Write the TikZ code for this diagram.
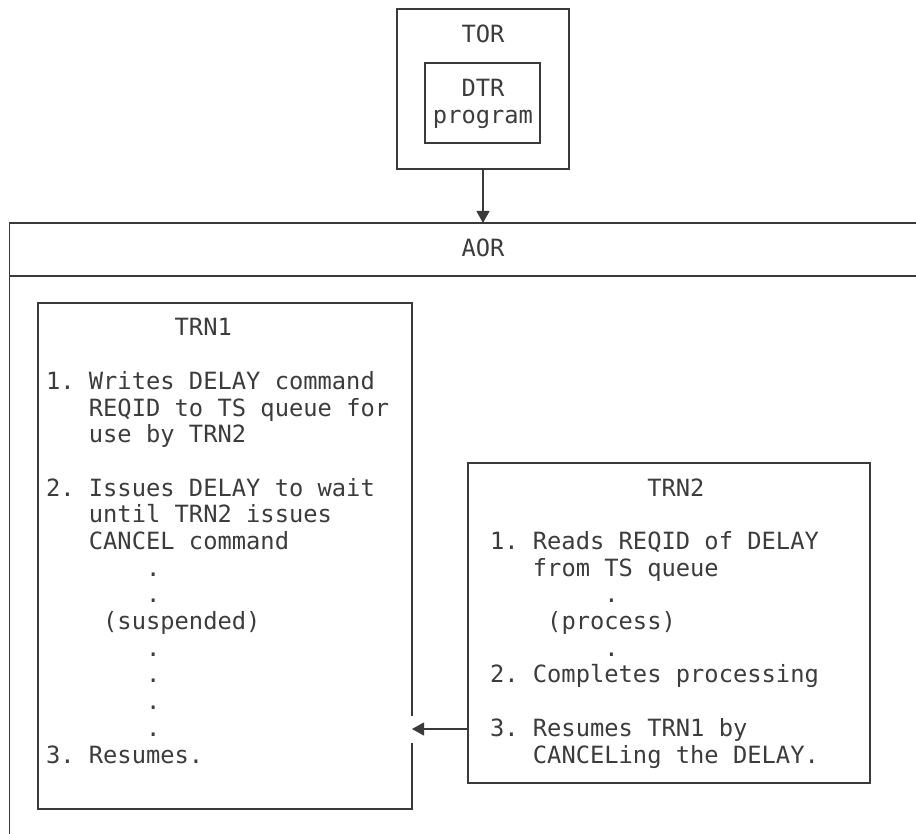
\documentclass[tikz,border=0pt]{standalone}
\usepackage{fontspec}
\newfontfamily\monof{DejaVu Sans Mono}
\usetikzlibrary{arrows.meta}
\definecolor{ink}{HTML}{3C3C3C}
\definecolor{rule}{HTML}{3A3A3A}
\begin{document}
\begin{tikzpicture}[x=1pt,y=-1pt,
  box/.style={draw=rule, line width=1.1pt, inner sep=0pt, outer sep=0pt},
  txt/.style={inner sep=0pt, outer sep=0pt, text=ink, font=\monof\fontsize{23.75}{26.7}\selectfont\frenchspacing},
  arr/.style={draw=rule, line width=1.1pt, -{Triangle[length=12pt,width=13pt]}}]
\useasboundingbox (0,0) rectangle (916,834);
% TOR
\node[box, minimum width=172, minimum height=160] (tor) at (483,89) {};
\node[txt, anchor=base] (tortxt) at (483,43) {TOR};
\node[box, minimum width=115, minimum height=80] (dtr) at (482.5,103) {};
\node[txt, anchor=base] (dtrtxt1) at (483,97) {DTR};
\node[txt, anchor=base] (dtrtxt2) at (483,123.7) {program};
% AOR region (open right and bottom)
\coordinate (aortl) at (9.5,223);
\coordinate (aortr) at (916,223);
\coordinate (aordl) at (9.5,276);
\coordinate (aordr) at (916,276);
\coordinate (aorbl) at (9.5,834);
\coordinate (aortop) at (483,223);
\draw[draw=rule, line width=1.1pt] (aortr) -- (aortl) -- (aorbl);
\draw[draw=rule, line width=1.1pt] (aordl) -- (aordr);
\node[txt, anchor=base] (aortxt) at (483,257) {AOR};
\draw[arr] (tor.south) -- (aortop);
% TRN1
\node[box, minimum width=374, minimum height=506] (trn1) at (225,556) {};
\foreach \r/\c/\t in {0/9/TRN1, 2/0/1. Writes DELAY command, 3/3/REQID to TS queue for, 4/3/use by TRN2,
  6/0/2. Issues DELAY to wait, 7/3/until TRN2 issues, 8/3/CANCEL command, 9/7/., 10/7/., 11/4/(suspended),
  12/7/., 13/7/., 14/7/., 15/7/., 16/0/3. Resumes.}
  \node[txt, anchor=base west] (a\r) at (46+\c*14.3, 336+\r*26.69) {\t};
% TRN2
\node[box, minimum width=402, minimum height=320] (trn2) at (669,623) {};
\foreach \r/\c/\t in {0/11/TRN2, 2/0/1. Reads REQID of DELAY, 3/3/from TS queue, 4/8/., 5/4/(process),
  6/8/., 7/0/2. Completes processing, 9/0/3. Resumes TRN1 by, 10/3/CANCELing the DELAY.}
  \node[txt, anchor=base west] (b\r) at (490+\c*14.3, 496+\r*26.7) {\t};
% arrow TRN2 -> TRN1
\coordinate (ay) at (0,729);
\coordinate (gapa) at (0,716);
\coordinate (gapb) at (0,743);
\draw[white, line width=3pt] (trn1.east |- gapa) -- (trn1.east |- gapb);
\draw[arr] (trn2.west |- ay) -- (trn1.east |- ay);
\end{tikzpicture}
\end{document}
